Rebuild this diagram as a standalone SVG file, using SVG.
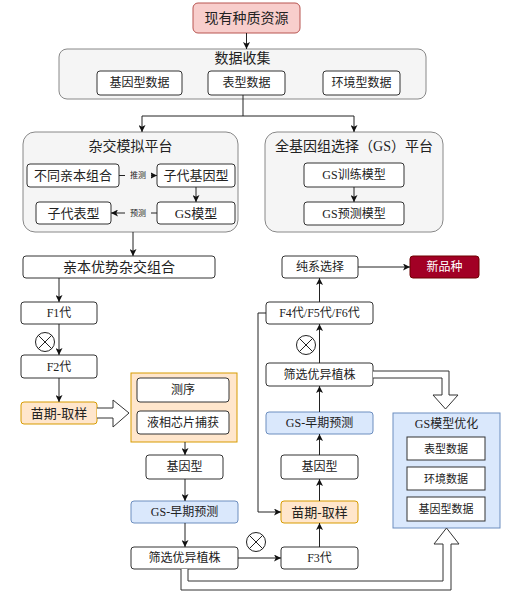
<svg xmlns="http://www.w3.org/2000/svg" width="514" height="597" viewBox="0 0 514 597">
<defs>
<marker id="ah" viewBox="0 0 10 10" refX="10" refY="5" markerWidth="7" markerHeight="7" orient="auto" markerUnits="userSpaceOnUse">
<path d="M0,0 L10,5 L0,10 L2.5,5 Z" fill="#111"/>
</marker>
<style>
text{font-family:"Liberation Serif","Noto Sans CJK SC",sans-serif;fill:#222;text-anchor:middle;dominant-baseline:central}
.t14{font-size:14px}
.t13{font-size:13px}
.t12{font-size:12px}
.t8{font-size:8px}
.box{fill:#fff;stroke:#333;stroke-width:1}
.cont{fill:#f5f5f5;stroke:#888;stroke-width:1}
.orange{fill:#ffe6cc;stroke:#d79b00;stroke-width:1}
.blue{fill:#dae8fc;stroke:#6c8ebf;stroke-width:1}
.pink{fill:#f8cecc;stroke:#b85450;stroke-width:1}
.red{fill:#a20025;stroke:#6f0000;stroke-width:1}
.ln{fill:none;stroke:#222;stroke-width:1}
.arr{fill:none;stroke:#222;stroke-width:1;marker-end:url(#ah)}
.hollow{fill:#fff;stroke:#333;stroke-width:1}
.cross{fill:#fff;stroke:#222;stroke-width:1}
</style>
</defs>

<g id="source"><rect class="pink" x="193" y="3" width="107" height="30" rx="5"/><text class="t14" x="246.5" y="18">现有种质资源</text></g>

<g id="data-collect">
<rect class="cont" x="59" y="49" width="367" height="50" rx="8"/>
<text class="t14" x="242.5" y="58">数据收集</text>
<g id="dc-geno"><rect class="box" x="97" y="71" width="85" height="24" rx="3"/><text class="t12" x="139.5" y="83">基因型数据</text></g>
<g id="dc-pheno"><rect class="box" x="208" y="71" width="77" height="24" rx="3"/><text class="t12" x="246.5" y="83">表型数据</text></g>
<g id="dc-env"><rect class="box" x="323" y="71" width="77" height="24" rx="3"/><text class="t12" x="361.5" y="83">环境型数据</text></g>
</g>

<g id="cross-platform">
<rect class="cont" x="23" y="132" width="215" height="100" rx="12"/>
<text class="t14" x="130.5" y="146">杂交模拟平台</text>
<g id="cp-parents"><rect class="box" x="27" y="164" width="92" height="23" rx="3"/><text class="t13" x="73" y="175.5">不同亲本组合</text></g>
<g id="cp-offgeno"><rect class="box" x="157" y="164" width="78" height="23" rx="3"/><text class="t13" x="196" y="175.5">子代基因型</text></g>
<g id="cp-offpheno"><rect class="box" x="36" y="202" width="75" height="22" rx="3"/><text class="t13" x="73.5" y="213">子代表型</text></g>
<g id="cp-gs"><rect class="box" x="157" y="202" width="78" height="22" rx="3"/><text class="t13" x="196" y="213">GS模型</text></g>
</g>

<g id="gs-platform">
<rect class="cont" x="265" y="132" width="178" height="100" rx="12"/>
<text class="t14" x="354" y="146">全基因组选择（GS）平台</text>
<g id="gs-train"><rect class="box" x="304" y="163" width="100" height="24" rx="3"/><text class="t12" x="354" y="175">GS训练模型</text></g>
<g id="gs-pred"><rect class="box" x="304" y="202" width="100" height="23" rx="3"/><text class="t12" x="354" y="213.5">GS预测模型</text></g>
</g>

<g id="parent-combo"><rect class="box" x="23" y="256" width="192" height="22" rx="3"/><text class="t14" x="119" y="267">亲本优势杂交组合</text></g>
<g id="f1"><rect class="box" x="21" y="302" width="76" height="22" rx="3"/><text class="t12" x="59" y="313">F1代</text></g>
<g id="f2"><rect class="box" x="21" y="355" width="76" height="23" rx="3"/><text class="t12" x="59" y="366.5">F2代</text></g>
<g id="sample-left"><rect class="orange" x="21" y="402" width="76" height="22" rx="3"/><text class="t13" x="59" y="413">苗期-取样</text></g>

<g id="seq-container">
<rect class="orange" x="131" y="373" width="106" height="69"/>
<g id="seq"><rect class="box" x="137" y="378" width="92" height="24" rx="3"/><text class="t12" x="183" y="390">测序</text></g>
<g id="capture"><rect class="box" x="137" y="411" width="92" height="23" rx="3"/><text class="t12" x="183" y="422.5">液相芯片捕获</text></g>
</g>

<g id="geno-left"><rect class="box" x="146" y="455" width="77" height="24" rx="3"/><text class="t12" x="184.5" y="467">基因型</text></g>
<g id="early-left"><rect class="blue" x="131" y="501" width="107" height="22" rx="3"/><text class="t12" x="184.5" y="512">GS-早期预测</text></g>
<g id="select-left"><rect class="box" x="131" y="547" width="107" height="22" rx="3"/><text class="t12" x="184.5" y="558">筛选优异植株</text></g>

<g id="pure-line"><rect class="box" x="282" y="256" width="76" height="22" rx="3"/><text class="t12" x="320" y="267">纯系选择</text></g>
<g id="new-variety"><rect class="red" x="410" y="256" width="69" height="22" rx="3"/><text class="t12" x="444.5" y="267" style="fill:#fff">新品种</text></g>
<g id="f456"><rect class="box" x="266" y="302" width="107" height="22" rx="3"/><text class="t12" x="319.5" y="313">F4代/F5代/F6代</text></g>
<g id="select-right"><rect class="box" x="266" y="363" width="107" height="23" rx="3"/><text class="t12" x="319.5" y="374.5">筛选优异植株</text></g>
<g id="early-right"><rect class="blue" x="266" y="412" width="107" height="22" rx="3"/><text class="t12" x="319.5" y="423">GS-早期预测</text></g>
<g id="geno-right"><rect class="box" x="281" y="455" width="77" height="24" rx="3"/><text class="t12" x="319.5" y="467">基因型</text></g>
<g id="sample-right"><rect class="orange" x="281" y="501" width="77" height="22" rx="3"/><text class="t13" x="319.5" y="512">苗期-取样</text></g>
<g id="f3"><rect class="box" x="281" y="547" width="77" height="22" rx="3"/><text class="t12" x="319.5" y="558">F3代</text></g>

<g id="gs-optimize">
<rect class="blue" x="393" y="413" width="107" height="115"/>
<text class="t12" x="446.5" y="424">GS模型优化</text>
<g id="opt-pheno"><rect class="box" x="407" y="437" width="78" height="23"/><text class="t11 t12" x="446" y="448.5" style="font-size:11px">表型数据</text></g>
<g id="opt-env"><rect class="box" x="407" y="467" width="78" height="23"/><text x="446" y="478.5" style="font-size:11px">环境数据</text></g>
<g id="opt-geno"><rect class="box" x="407" y="497" width="78" height="24"/><text x="446" y="509" style="font-size:11px">基因型数据</text></g>
</g>

<g id="selfing-marks">
<g id="self1"><circle class="cross" cx="45" cy="342" r="9.5"/><path class="ln" d="M38.3,335.3 L51.7,348.7 M51.7,335.3 L38.3,348.7"/></g>
<g id="self2"><circle class="cross" cx="306" cy="345" r="9.5"/><path class="ln" d="M299.3,338.3 L312.7,351.7 M312.7,338.3 L299.3,351.7"/></g>
<g id="self3"><circle class="cross" cx="256" cy="542" r="9.5"/><path class="ln" d="M249.3,535.3 L262.7,548.7 M262.7,535.3 L249.3,548.7"/></g>
</g>

<g id="connectors">
<path class="arr" d="M246.5,33 V49"/>
<path class="ln" d="M243,95 V116 M142,116 H354"/>
<path class="arr" d="M142,116 V132"/>
<path class="arr" d="M354,116 V132"/>
<path class="arr" d="M119,175.5 H157"/>
<rect x="125" y="170" width="26" height="11" fill="#f5f5f5"/>
<text class="t8" x="138" y="175.5">推测</text>
<path class="arr" d="M196,187 V202"/>
<path class="arr" d="M157,213 H111"/>
<rect x="125" y="208" width="26" height="11" fill="#f5f5f5"/>
<text class="t8" x="138" y="213.5">预测</text>
<path class="arr" d="M354,187 V202"/>
<path class="arr" d="M133,232 V256"/>
<path class="arr" d="M59,278 V302"/>
<path class="arr" d="M59,324 V355"/>
<path class="arr" d="M59,378 V402"/>
<path class="hollow" d="M97,408 H113 V400 L129,413 L113,427 V418 H97"/>
<path class="arr" d="M185,442 V455"/>
<path class="arr" d="M185,479 V501"/>
<path class="arr" d="M185,523 V547"/>
<path class="arr" d="M238,558 H281"/>
<path class="arr" d="M319.5,547 V523"/>
<path class="arr" d="M319.5,501 V479"/>
<path class="arr" d="M319.5,455 V434"/>
<path class="arr" d="M319.5,412 V386"/>
<path class="arr" d="M319.5,363 V324"/>
<path class="arr" d="M319.5,302 V278"/>
<path class="arr" d="M358,267 H410"/>
<path class="arr" d="M266,313 H258 V512 H281"/>
<path class="hollow" d="M373,371 H449 V395 H458 L445.5,409 L433,395 H442 V378 H373"/>
<path class="hollow" d="M181,569 V590 H451 V544 H459 L446.5,528 L434,544 H443 V581 H188 V569"/>
</g>
</svg>
